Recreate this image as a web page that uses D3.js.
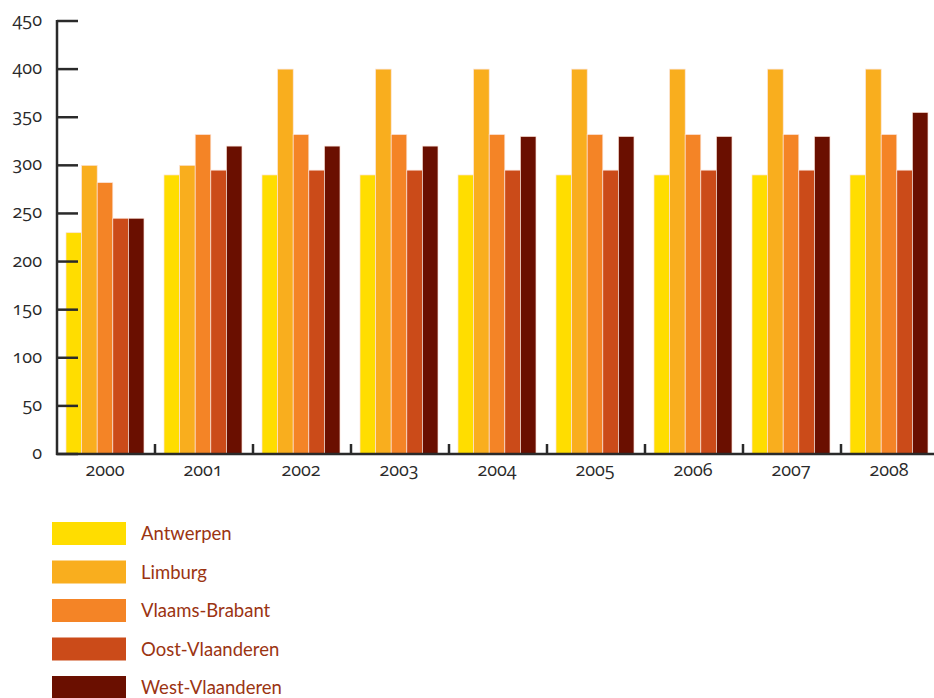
<!DOCTYPE html>
<html><head><meta charset="utf-8">
<script src="https://cdn.jsdelivr.net/npm/d3@7"></script>
<style>
body{margin:0;background:#fff;}
svg text{font-family:Lato,"Open Sans",sans-serif;}
.num{font-family:"Open Sans",Lato,sans-serif;font-feature-settings:"onum" 1;font-variant-numeric:oldstyle-nums;}
</style></head><body>
<svg id="c" width="934" height="698"></svg>
<script>
const years = ["2000","2001","2002","2003","2004","2005","2006","2007","2008"];
const series = ["Antwerpen","Limburg","Vlaams-Brabant","Oost-Vlaanderen","West-Vlaanderen"];
const colors = ["#FFDD00","#F9AE1E","#F48426","#CB4B19","#6A0F00"];
const antwerpen = [230,290,290,290,290,290,290,290,290];
const limburg = [300,300,400,400,400,400,400,400,400];
const vlaamsBrabant = [282,332,332,332,332,332,332,332,332];
const oostVlaanderen = [245,295,295,295,295,295,295,295,295];
const westVlaanderen = [245,320,320,320,330,330,330,330,355];
const yTicks = [0,50,100,150,200,250,300,350,400,450];

const values = [antwerpen,limburg,vlaamsBrabant,oostVlaanderen,westVlaanderen];
const svg = d3.select("#c");
const x0 = 57, x1 = 939, yTop = 21, yBot = 454;
const xg = d3.scaleBand().domain(years).range([x0, x1]);
const xs = d3.scaleBand().domain(series).range([0, 78]);
const y = d3.scaleLinear().domain([0,450]).range([yBot, yTop]);

const g = svg.append("g");
years.forEach((yr,i)=>{
  const gx = xg(yr) + 9;
  series.forEach((s,j)=>{
    g.append("rect")
      .attr("x", gx + xs(s))
      .attr("y", y(values[j][i]))
      .attr("width", xs.bandwidth())
      .attr("height", yBot - y(values[j][i]))
      .attr("fill", colors[j])
      .attr("stroke","#fbe3d8").attr("stroke-width",0.7);
  });
});

// y axis
const ya = svg.append("g");
ya.append("line").attr("x1",x0).attr("x2",x0).attr("y1",yTop-1).attr("y2",yBot+1).attr("stroke","#2a2a2a").attr("stroke-width",2.5);
yTicks.forEach(t=>{
  ya.append("line").attr("x1",x0).attr("x2",x0+21).attr("y1",y(t)).attr("y2",y(t)).attr("stroke","#2a2a2a").attr("stroke-width",2.5);
  ya.append("text").attr("class","num").attr("x",42).attr("y",y(t)+5).attr("text-anchor","end")
    .attr("font-size",18).attr("fill","#2a2a2a").text(t);
});
// x axis
const xa = svg.append("g");
xa.append("line").attr("x1",x0-1).attr("x2",934).attr("y1",yBot).attr("y2",yBot).attr("stroke","#2a2a2a").attr("stroke-width",2.5);
years.forEach((yr,i)=>{
  if(i>0) xa.append("line").attr("x1",xg(yr)).attr("x2",xg(yr)).attr("y1",yBot-10).attr("y2",yBot).attr("stroke","#2a2a2a").attr("stroke-width",2.5);
  xa.append("text").attr("class","num").attr("x",xg(yr)+48).attr("y",476).attr("text-anchor","middle")
    .attr("font-size",18).attr("fill","#2a2a2a").text(yr);
});

// legend
const lg = svg.append("g");
series.forEach((s,j)=>{
  const ly = 522 + j*38.5;
  lg.append("rect").attr("x",52).attr("y",ly).attr("width",74).attr("height",23).attr("fill",colors[j]);
  lg.append("text").attr("x",141).attr("y",ly+18).attr("font-size",18.5).attr("fill","#9B3412").text(s);
});
</script>
</body></html>
